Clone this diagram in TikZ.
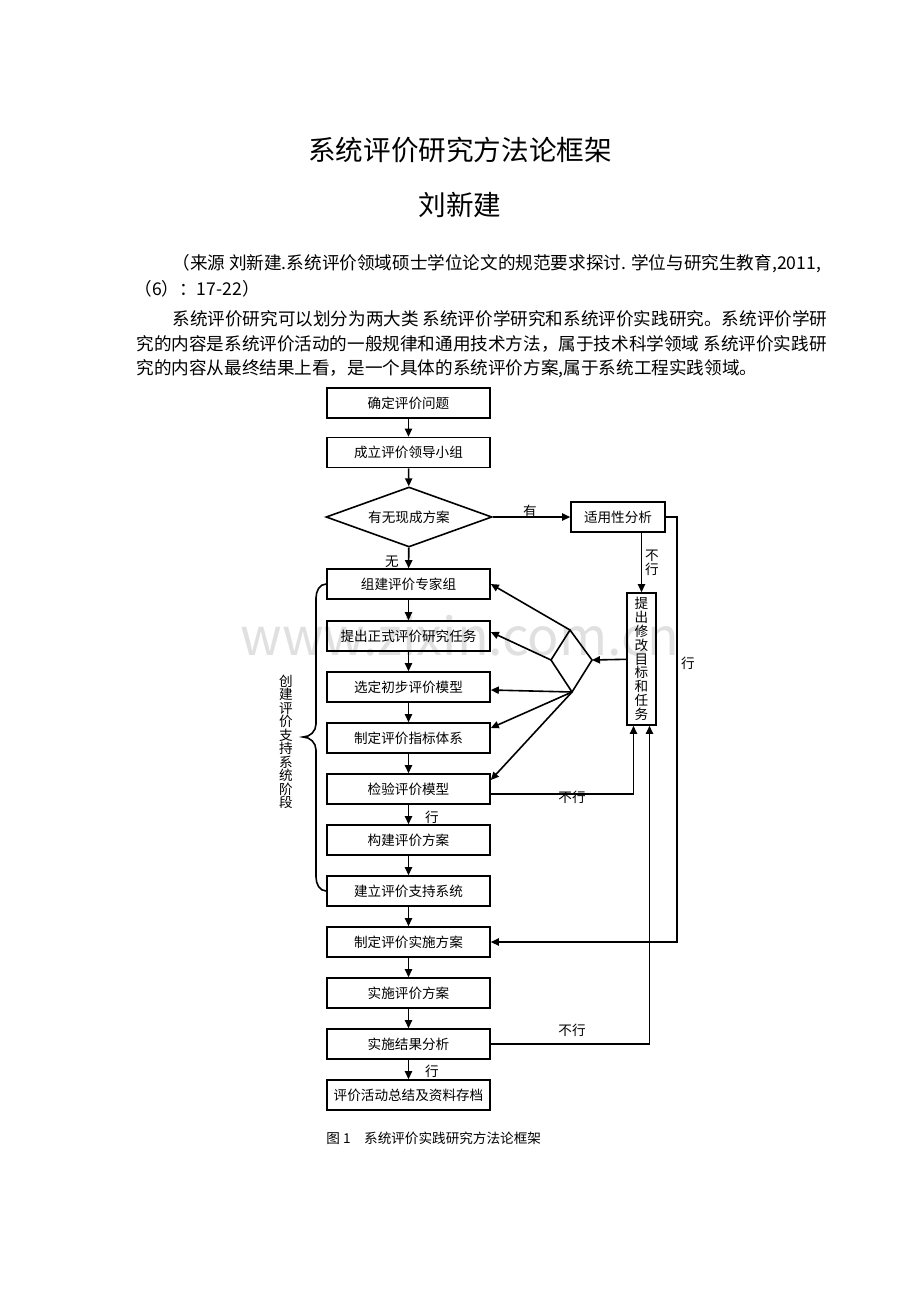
\documentclass[tikz,border=0pt]{standalone}
\usepackage{fontspec}
\setmainfont{Noto Sans CJK SC}
\usetikzlibrary{shapes.geometric,arrows.meta}
\begin{document}
\begin{tikzpicture}[x=0.5pt,y=-0.5pt,
    box/.style = {draw,thick,minimum width=81.5pt,minimum height=15pt,inner sep=0pt,font=\fontsize{6.8}{7}\selectfont},
    arrow/.style = {thick,-{Triangle[length=4pt,width=3.6pt]}},
    lbl/.style = {font=\fontsize{6.8}{7}\selectfont,inner sep=0pt},
    body/.style = {anchor=west,inner sep=0pt,font=\fontsize{8.8}{9}\selectfont}]
\useasboundingbox (0,0) rectangle (920,1302);
% heading and text
\node[font=\fontsize{13.8}{14}\selectfont] (title) at (460,150) {系统评价研究方法论框架};
\node[font=\fontsize{13.8}{14}\selectfont] (author) at (460,205) {刘新建};
\node[body] (t1) at (172,264) {（来源 刘新建.系统评价领域硕士学位论文的规范要求探讨. 学位与研究生教育,2011,};
\node[body] (t2) at (134,289) {（6）：17-22）};
\node[body] (t3) at (172,319) {系统评价研究可以划分为两大类 系统评价学研究和系统评价实践研究。系统评价学研};
\node[body] (t4) at (136,344) {究的内容是系统评价活动的一般规律和通用技术方法，属于技术科学领域 系统评价实践研};
\node[body] (t5) at (136,369) {究的内容从最终结果上看，是一个具体的系统评价方案,属于系统工程实践领域。};
% watermark
\node[text=black!12,font=\fontsize{26}{26}\selectfont] (wm) at (460,636) {www.zixin.com.cn};
% main column
\node[box] (b1) at (408.5,403) {确定评价问题};
\node[box] (b2) at (408.5,452.5) {成立评价领导小组};
\node[draw,thick,diamond,aspect=2.77,minimum width=83pt,minimum height=30pt,inner sep=0pt,font=\fontsize{6.8}{7}\selectfont] (d) at (409,517) {有无现成方案};
\node[box] (b3) at (408.5,584) {组建评价专家组};
\node[box] (b4) at (408.5,636) {提出正式评价研究任务};
\node[box] (b5) at (408.5,687) {选定初步评价模型};
\node[box] (b6) at (408.5,738) {制定评价指标体系};
\node[box] (b7) at (408.5,789) {检验评价模型};
\node[box] (b8) at (408.5,840) {构建评价方案};
\node[box] (b9) at (408.5,891) {建立评价支持系统};
\node[box] (b10) at (408.5,942) {制定评价实施方案};
\node[box] (b11) at (408.5,993) {实施评价方案};
\node[box] (b12) at (408.5,1044) {实施结果分析};
\node[box] (b13) at (408.5,1095) {评价活动总结及资料存档};
% side boxes
\node[box,minimum width=47pt] (fit) at (618,517) {适用性分析};
\node[box,minimum width=14.5pt,minimum height=66pt,align=center,font=\fontsize{6.8}{6.9}\selectfont] (rev) at (641.5,659) {提\\出\\修\\改\\目\\标\\和\\任\\务};
% fan shape
\coordinate (f1) at (570,630);
\coordinate (f2) at (592,660);
\coordinate (f3) at (572,692);
\coordinate (f4) at (551,660);
\draw[thick] (f1) -- (f2) -- (f3) -- (f4) -- cycle;
\draw[arrow] (rev) -- (f2);
\draw[arrow] (f1) -- (b3.east);
\draw[arrow] (f4) -- ([yshift=2pt]b4.east);
\draw[arrow] (f3) -- ([yshift=-1.5pt]b5.east);
\draw[arrow] (f3) -- ([yshift=5pt]b6.east);
\draw[arrow] (f3) -- ([yshift=4.5pt]b7.east);
% column arrows
\draw[arrow] (b1) -- (b2);
\draw[arrow] (b2) -- (d);
\draw[arrow] (d) -- (b3);
\draw[arrow] (b3) -- (b4);
\draw[arrow] (b4) -- (b5);
\draw[arrow] (b5) -- (b6);
\draw[arrow] (b6) -- (b7);
\draw[arrow] (b7) -- (b8);
\draw[arrow] (b8) -- (b9);
\draw[arrow] (b9) -- (b10);
\draw[arrow] (b10) -- (b11);
\draw[arrow] (b11) -- (b12);
\draw[arrow] (b12) -- (b13);
% loops
\draw[arrow] (d.east) -- (fit.west);
\draw[arrow] (fit.south -| rev.north) -- (rev.north);
\draw[arrow] ([yshift=-2.5pt]b7.east) -| ([xshift=-4pt]rev.south);
\draw[arrow] (b12.east) -| ([xshift=4pt]rev.south);
\draw[arrow] (fit.east) -| (677,942) -- (b10.east);
% labels
\node[lbl] (l1) at (530,511) {有};
\node[lbl] (l2) at (392,562) {无};
\node[lbl,align=center] (l3) at (652,563) {不\\行};
\node[lbl] (l4) at (688,663) {行};
\node[lbl] (l5) at (572,797) {不行};
\node[lbl] (l6) at (432,817) {行};
\node[lbl] (l7) at (572,1030) {不行};
\node[lbl] (l8) at (432,1071) {行};
% brace
\draw[thick] (b3.west) to[out=180,in=90] (316,598) -- (316,724)
   to[out=-90,in=0] (303,737) to[out=0,in=90] (316,750) -- (316,877)
   to[out=-90,in=180] (b9.west);
\node[lbl,align=center,font=\fontsize{6.8}{6.75}\selectfont] (stage) at (286,742) {创\\建\\评\\价\\支\\持\\系\\统\\阶\\段};
% caption
\node[anchor=west,inner sep=0pt,font=\fontsize{6.8}{7}\selectfont] (cap) at (326,1138) {图 1\quad 系统评价实践研究方法论框架};
\end{tikzpicture}
\end{document}
